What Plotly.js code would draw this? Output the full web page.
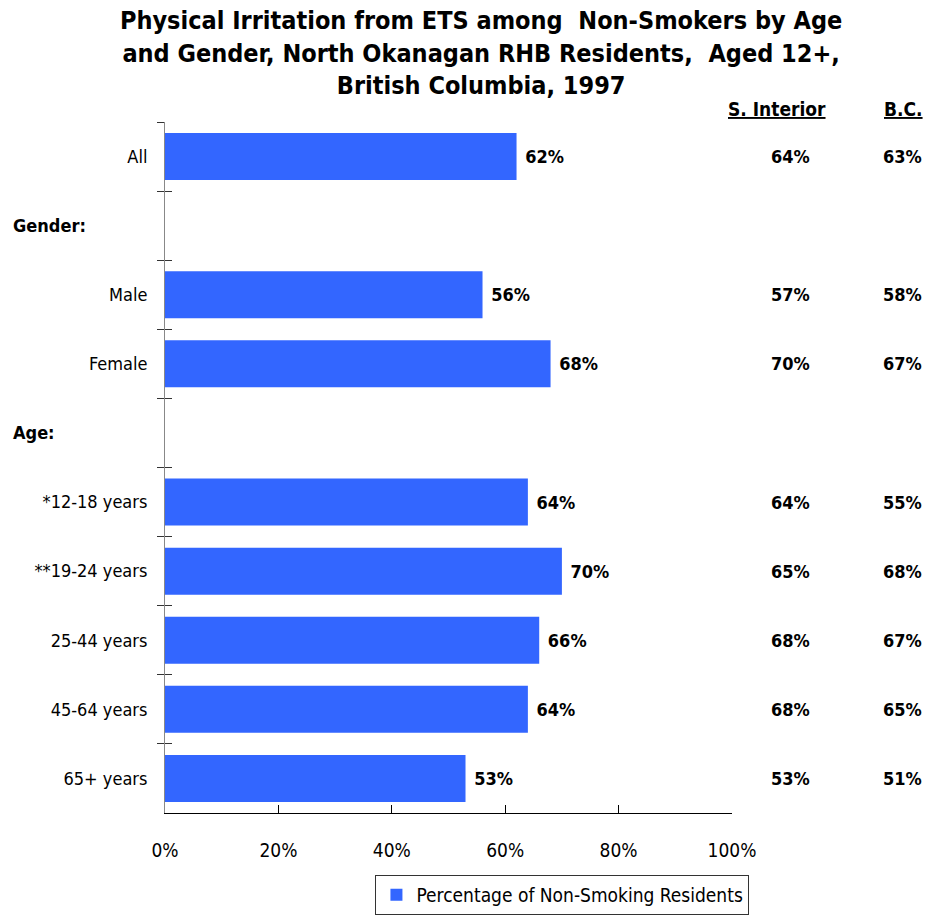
<!DOCTYPE html>
<html>
<head>
<meta charset="utf-8">
<script src="https://cdn.plot.ly/plotly-3.0.1.min.js"></script>
<style>html,body{margin:0;padding:0;background:#fff;}#chart{width:927px;height:915px;}</style>
</head>
<body>
<div id="chart"></div>
<script>
// ---- data ----
var categories = ["All", " ", "Male", "Female", "  ", "*12-18 years", "**19-24 years", "25-44 years", "45-64 years", "65+ years"];
var northOkanagan = [0.62, null, 0.56, 0.68, null, 0.64, 0.70, 0.66, 0.64, 0.53];
var sInterior = ["64%", "", "57%", "70%", "", "64%", "65%", "68%", "68%", "53%"];
var bcValues = ["63%", "", "58%", "67%", "", "55%", "68%", "67%", "65%", "51%"];
var groupHeaders = [{label: "Gender:", cat: " "}, {label: "Age:", cat: "  "}];
var xTickVals = [0, 0.2, 0.4, 0.6, 0.8, 1.0];
var seriesName = "Percentage of Non-Smoking Residents";
var titleText = "Physical Irritation from ETS among  Non-Smokers by Age<br>and Gender, North Okanagan RHB Residents,  Aged 12+,<br>British Columbia, 1997";

var FONT = "'DejaVu Sans Condensed', 'Liberation Sans Narrow', 'Arial Narrow', sans-serif";
var BLUE = "#3366FF";

var traces = [
  {
    type: "bar", orientation: "h",
    x: northOkanagan, y: categories,
    name: seriesName,
    marker: {color: BLUE},
    width: 0.68,
    text: northOkanagan.map(function(v){ return v == null ? "" : "\u00a0" + Math.round(v*100) + "%"; }),
    textposition: "outside",
    cliponaxis: false,
    textfont: {family: FONT, size: 18, color: "#000", weight: "bold"},
    hoverinfo: "skip"
  },
  {
    type: "scatter", mode: "markers",
    x: northOkanagan, y: categories, yaxis: "y2",
    marker: {opacity: 0},
    showlegend: false, hoverinfo: "skip"
  }
];

var annotations = [];
groupHeaders.forEach(function(g){
  annotations.push({xref: "paper", yref: "y", x: -0.272, y: g.cat, xanchor: "left", yanchor: "middle",
    text: "<b>" + g.label + "</b>", showarrow: false, font: {family: FONT, size: 18, color: "#000"}});
});
categories.forEach(function(c, i){
  if (sInterior[i]) annotations.push({xref: "paper", yref: "y", x: 1.141, y: c, xanchor: "right", yanchor: "middle",
    text: "<b>" + sInterior[i] + "</b>", showarrow: false, font: {family: FONT, size: 18, color: "#000"}});
  if (bcValues[i]) annotations.push({xref: "paper", yref: "y", x: 1.339, y: c, xanchor: "right", yanchor: "middle",
    text: "<b>" + bcValues[i] + "</b>", showarrow: false, font: {family: FONT, size: 18, color: "#000"}});
});
annotations.push({xref: "paper", yref: "paper", x: 1.079, y: 1.019, xanchor: "center", yanchor: "middle",
  text: "<b><u>S. Interior</u></b>", showarrow: false, font: {family: FONT, size: 19, color: "#000"}});
annotations.push({xref: "paper", yref: "paper", x: 1.341, y: 1.019, xanchor: "right", yanchor: "middle",
  text: "<b><u>B.C.</u></b>", showarrow: false, font: {family: FONT, size: 19, color: "#000"}});

var layout = {
  width: 927, height: 915,
  margin: {l: 165, r: 195, t: 122, b: 102},
  paper_bgcolor: "#fff", plot_bgcolor: "#fff",
  font: {family: FONT, size: 18, color: "#000"},
  title: {text: "<b>" + titleText + "</b>", x: 0.519, xanchor: "center", y: 0.968, yanchor: "top",
    font: {family: FONT, size: 25, color: "#000"}},
  showlegend: true,
  legend: {orientation: "h", x: 0.405, xref: "container", y: 0.0437, yref: "container", xanchor: "left", yanchor: "top",
    bordercolor: "#333", borderwidth: 1, font: {family: FONT, size: 19, color: "#000"}},
  xaxis: {range: [0, 1], tickvals: xTickVals, tickformat: ".0%", ticks: "inside", ticklen: 8,
    tickcolor: "#000", showline: true, linecolor: "#000", linewidth: 1, showgrid: false, zeroline: false,
    ticklabelstandoff: 20, tickfont: {family: FONT, size: 19, color: "#000"}, fixedrange: true},
  yaxis: {type: "category", categoryorder: "array", categoryarray: categories, range: [9.5, -0.5],
    ticks: "outside", ticklen: 7, tickson: "boundaries", tickcolor: "#333",
    showline: true, linecolor: "#888", linewidth: 1, showgrid: false, zeroline: false,
    ticklabelstandoff: 13, tickfont: {family: FONT, size: 18, color: "#000"}, fixedrange: true},
  yaxis2: {type: "category", categoryorder: "array", categoryarray: categories, range: [9.5, -0.5],
    overlaying: "y", anchor: "x", side: "left",
    ticks: "inside", ticklen: 7, tickson: "boundaries", tickcolor: "#333",
    showline: false, showgrid: false, zeroline: false, showticklabels: false, fixedrange: true},
  annotations: annotations
};

Plotly.newPlot("chart", traces, layout, {displayModeBar: false, staticPlot: true});
</script>
</body>
</html>
